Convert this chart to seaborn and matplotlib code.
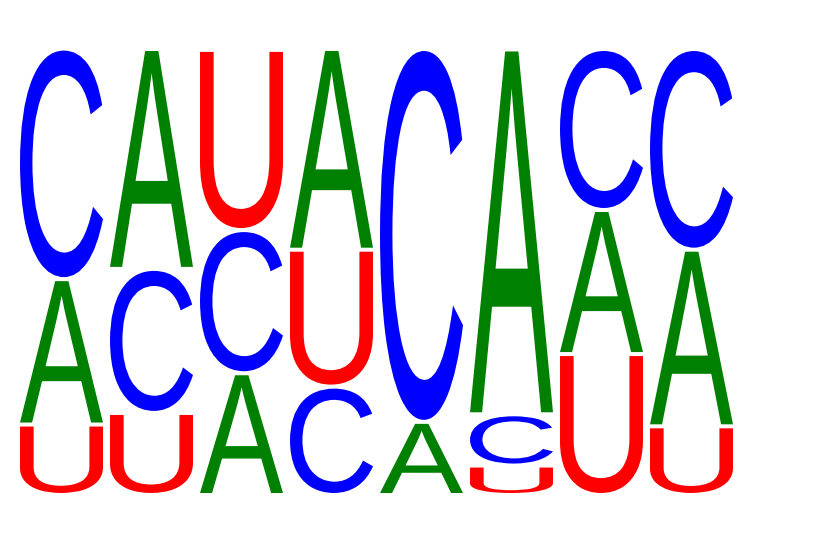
import matplotlib
matplotlib.use("Agg")
import numpy as np
import pandas as pd
import seaborn as sns
import matplotlib.pyplot as plt
from matplotlib.textpath import TextPath
from matplotlib.patches import PathPatch
from matplotlib.font_manager import FontProperties
from matplotlib.transforms import Affine2D

# ---- data (letter probabilities per position) ----
positions = [1, 2, 3, 4, 5, 6, 7, 8]
prob_A = [0.326, 0.493, 0.273, 0.450, 0.164, 0.818, 0.323, 0.396]
prob_C = [0.517, 0.323, 0.321, 0.243, 0.836, 0.115, 0.361, 0.450]
prob_U = [0.158, 0.184, 0.404, 0.307, 0.000, 0.066, 0.316, 0.154]
letters = ["A", "C", "U"]
letter_colors = {"A": "#008000", "C": "#0000FF", "U": "#FF0000"}

df = pd.DataFrame({"position": positions, "A": prob_A, "C": prob_C, "U": prob_U})

sns.set_theme(style="white")
fig = plt.figure(figsize=(8.33, 5.5), dpi=100)
ax = fig.add_axes([16.5 / 833, 55 / 550, 720 / 833, 446 / 550])
ax.set_xlim(0.5, len(positions) + 0.5)
ax.set_ylim(0, 1)
ax.axis("off")

fp = FontProperties(family="Liberation Sans")
xmargin = 0.039
ygap = 0.0045


def draw_letter(ax, letter, xc, y0, h):
    path = TextPath((0, 0), letter, size=1, prop=fp)
    bb = path.get_extents()
    w = 1 - 2 * xmargin
    hh = h - 2 * ygap
    if hh <= 0:
        return
    t = (Affine2D().translate(-bb.x0, -bb.y0)
         .scale(w / bb.width, hh / bb.height)
         .translate(xc - 0.5 + xmargin, y0 + ygap))
    patch = PathPatch(t.transform_path(path), facecolor=letter_colors[letter],
                      edgecolor="none", lw=0)
    ax.add_patch(patch)


for _, row in df.iterrows():
    vals = sorted([(row[l], l) for l in letters])
    y = 0.0
    for v, l in vals:
        if v > 0:
            draw_letter(ax, l, row["position"], y, v)
        y += v

fig.savefig("out.png", dpi=100)
